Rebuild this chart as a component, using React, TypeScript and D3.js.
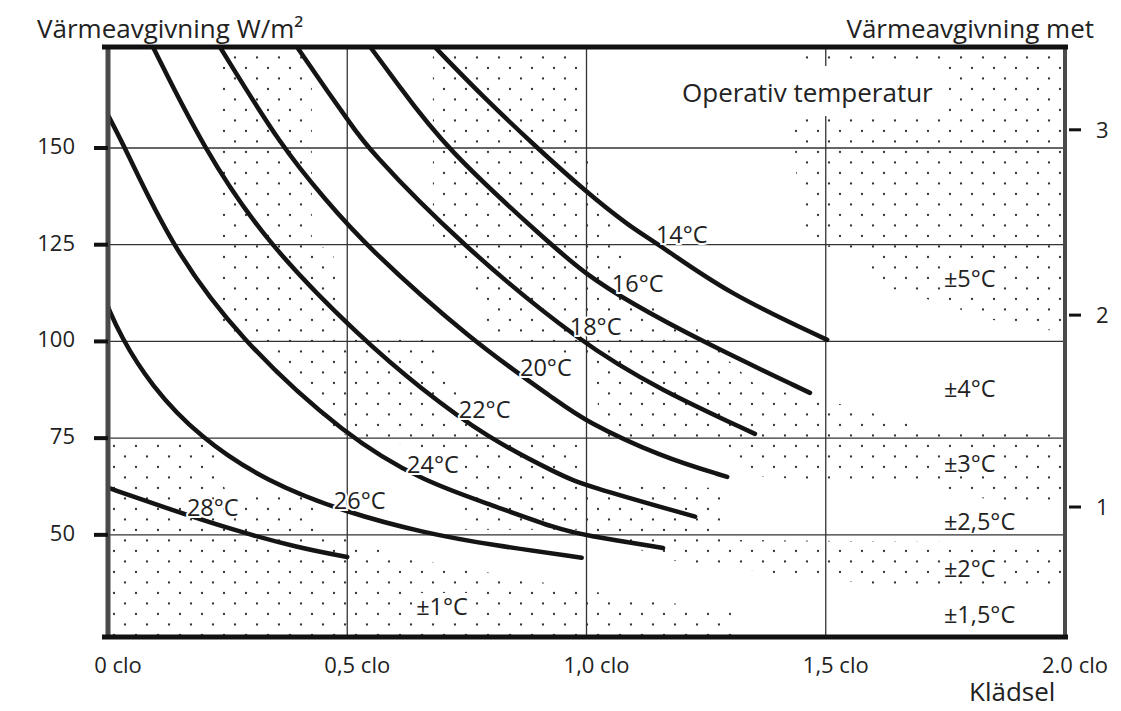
import { useEffect, useRef } from 'react';
import * as d3 from 'd3';

// x: klädsel (clo), y: värmeavgivning (W/m²)
const cloTicks = [0, 0.5, 1.0, 1.5, 2.0];
const cloTickLabels = ['0 clo', '0,5 clo', '1,0 clo', '1,5 clo', '2.0 clo'];
const wattTicks = [50, 75, 100, 125, 150];
const metTicks = [1, 2, 3];
// where the met ticks sit on the W/m² scale in the picture
const metInWatt = [57.2, 106.8, 154.7];

// operative temperature curves, [clo, W/m²]
const curveNames = ['14°C', '16°C', '18°C', '20°C', '22°C', '24°C', '26°C', '28°C'];
const curve14 = [[0.683, 176.1], [0.784, 163.2], [0.897, 150], [0.995, 139.1], [1.091, 129.6], [1.154, 124.9], [1.294, 112.5], [1.503, 100.4]];
const curve16 = [[0.548, 176.1], [0.604, 166.8], [0.704, 150], [0.924, 125.2], [0.995, 117.7], [1.091, 110], [1.243, 99.9], [1.467, 86.7]];
const curve18 = [[0.395, 176.1], [0.464, 163.7], [0.502, 157.2], [0.541, 150], [0.736, 125.2], [0.993, 99.1], [1.154, 87.5], [1.352, 76.1]];
const curve20 = [[0.234, 176.1], [0.364, 150], [0.455, 136.6], [0.535, 125.2], [0.757, 100.4], [0.945, 84.1], [0.993, 79.7], [1.154, 70.2], [1.294, 65.0]];
const curve22 = [[0.094, 176.1], [0.199, 150], [0.332, 125.2], [0.533, 100.4], [0.652, 88], [0.792, 75.1], [0.945, 65.5], [0.993, 62.9], [1.227, 54.7]];
const curve24 = [[0, 158.5], [0.036, 150], [0.13, 125.2], [0.272, 100.9], [0.5, 75.1], [0.662, 63.7], [0.8, 57.8], [0.945, 51.3], [0.993, 50], [1.16, 46.6]];
const curve26 = [[0, 108.9], [0.025, 101.7], [0.088, 88.8], [0.192, 75.1], [0.332, 63.7], [0.5, 55.7], [0.662, 50.5], [0.8, 47.4], [0.99, 44.1]];
const curve28 = [[0, 62.2], [0.12, 57], [0.26, 51.3], [0.4, 46.6], [0.5, 44.3]];
const curves = [curve14, curve16, curve18, curve20, curve22, curve24, curve26, curve28];
const curveLabelClo = [1.145, 1.053, 0.965, 0.861, 0.733, 0.625, 0.472, 0.165];

// stippled tolerance zones (±1, ±2, ±3, ±5 °C), [clo, W/m²]
const zone1 = [[0, 74.0], [0.213, 74.0], [0.245, 61.6], [0.422, 60.3], [0.453, 50.5], [0.5, 49.2], [0.652, 43.5], [0.876, 38.4], [0.993, 35.8], [1.112, 33.2], [1.31, 30.6], [1.31, 20], [0, 20]];
const zone2 = [[0.224, 180], [0.426, 180], [0.426, 125.2], [0.47, 123.6], [0.485, 101.2], [0.673, 100.4], [0.777, 77.6], [0.819, 74.5], [0.986, 73.3], [0.993, 62.9], [1.279, 62.1], [1.279, 48.7], [2.05, 47.9], [2.05, 37.1], [1.613, 37.1], [1.363, 40.4], [1.168, 43.5], [1.001, 51.3], [0.742, 51.3], [0.742, 64.2], [0.694, 72.0], [0.527, 74.5], [0.464, 77.1], [0.324, 99.1], [0.313, 101.2], [0.228, 101.2]];
const zone3 = [[0.679, 180], [0.986, 180], [0.997, 150], [1.028, 136.6], [1.07, 125.2], [1.112, 110.7], [1.237, 103.0], [1.3, 94.7], [1.348, 89.3], [1.419, 86.7], [1.536, 83.6], [1.724, 77.1], [2.05, 75.6], [2.05, 57.8], [1.921, 57.8], [1.781, 60.3], [1.703, 62.9], [1.509, 63.7], [1.321, 65.5], [1.279, 74.0], [1.028, 74.5], [1.018, 95.2], [0.903, 98.3], [0.798, 102.5], [0.729, 123.6], [0.679, 125.2]];
const zone5 = [[1.425, 180], [2.05, 180], [2.05, 101.2], [1.864, 105.0], [1.718, 110.7], [1.613, 114.6], [1.576, 123.6], [1.446, 125.2], [1.436, 149.5]];
const zones = [zone1, zone2, zone3, zone5];

const toleranceLabels = ['±5°C', '±4°C', '±3°C', '±2,5°C', '±2°C', '±1,5°C', '±1°C'];
const toleranceLabelAt = [[1.747, 114.1], [1.747, 85.7], [1.747, 66.3], [1.747, 51.3], [1.747, 39.1], [1.747, 27.3], [0.644, 29.3]];

export default function App() {
  const svgRef = useRef<SVGSVGElement | null>(null);

  useEffect(() => {
    const svg = svgRef.current;
    if (!svg) return;

    const width = 1121;
    const height = 711;
    const plot = { left: 108, right: 1065, top: 47, bottom: 637 };
    const font = '"Open Sans", sans-serif';
    const ink = '#222';

    const x = d3.scaleLinear().domain([0, 2]).range([plot.left, plot.right]);
    const y = d3.scaleLinear().domain([23.6, 176.1]).range([plot.bottom, plot.top]);
    const met = d3.scaleLinear().domain(metTicks).range(metInWatt);

    const root = d3.select(svg);
    root.selectAll('*').remove();
    root.attr('viewBox', `0 0 ${width} ${height}`);

    root.append('rect').attr('width', width).attr('height', height).attr('fill', '#fff');

    const defs = root.append('defs');
    const pat = defs
      .append('pattern')
      .attr('id', 'stipple')
      .attr('patternUnits', 'userSpaceOnUse')
      .attr('width', 22)
      .attr('height', 21);
    pat.append('circle').attr('cx', 4).attr('cy', 5).attr('r', 1.15).attr('fill', '#333');
    pat.append('circle').attr('cx', 15).attr('cy', 15.5).attr('r', 1.15).attr('fill', '#333');

    defs
      .append('clipPath')
      .attr('id', 'plotClip')
      .append('rect')
      .attr('x', plot.left)
      .attr('y', plot.top)
      .attr('width', plot.right - plot.left)
      .attr('height', plot.bottom - plot.top);

    const area = root.append('g').attr('clip-path', 'url(#plotClip)');

    const zoneLine = d3
      .line<number[]>()
      .x((d) => x(d[0]))
      .y((d) => y(d[1]))
      .curve(d3.curveLinearClosed);

    area
      .selectAll('path.zone')
      .data(zones)
      .join('path')
      .attr('class', 'zone')
      .attr('d', (d) => zoneLine(d))
      .attr('fill', 'url(#stipple)');

    // grid
    area
      .selectAll('line.hgrid')
      .data(wattTicks)
      .join('line')
      .attr('x1', plot.left)
      .attr('x2', plot.right)
      .attr('y1', (d) => y(d))
      .attr('y2', (d) => y(d))
      .attr('stroke', '#333')
      .attr('stroke-width', 1.3);

    area
      .selectAll('line.vgrid')
      .data(cloTicks.slice(1, -1))
      .join('line')
      .attr('x1', (d) => x(d))
      .attr('x2', (d) => x(d))
      .attr('y1', plot.top)
      .attr('y2', plot.bottom)
      .attr('stroke', '#333')
      .attr('stroke-width', 1.3);

    const label = (g: any, txt: string, px: number, py: number, size: number, anchor = 'start') =>
      g
        .append('text')
        .attr('x', px)
        .attr('y', py)
        .attr('text-anchor', anchor)
        .attr('font-family', font)
        .attr('font-size', size)
        .attr('fill', ink)
        .text(txt);

    // white boxes behind the zone labels
    const boxed = (txt: string, px: number, py: number) => {
      const g = root.append('g');
      const t = label(g, txt, px, py, 23.5);
      const b = (t.node() as SVGTextElement).getBBox();
      g.insert('rect', 'text')
        .attr('x', b.x - 4)
        .attr('y', b.y + 3)
        .attr('width', b.width + 8)
        .attr('height', b.height - 6)
        .attr('fill', '#fff');
    };

    toleranceLabels.forEach((t, i) => boxed(t, x(toleranceLabelAt[i][0]), y(toleranceLabelAt[i][1])));

    const op = root.append('g');
    const opText = label(op, 'Operativ temperatur', 682, 102, 26);
    const ob = (opText.node() as SVGTextElement).getBBox();
    op.insert('rect', 'text')
      .attr('x', ob.x - 12)
      .attr('y', ob.y - 8)
      .attr('width', Math.min(ob.width + 24, 1040 - ob.x + 12))
      .attr('height', ob.height + 14)
      .attr('fill', '#fff');

    // curve labels sit on their curve
    curves.forEach((c, i) => {
      const onCurve = d3.scaleLinear().domain(c.map((p) => p[0])).range(c.map((p) => p[1]));
      const cx = curveLabelClo[i];
      const t = label(root, curveNames[i], x(cx), y(onCurve(cx)) + 1, 23.5);
      t.attr('stroke', '#fff').attr('stroke-width', 4).attr('paint-order', 'stroke');
    });

    const curveLine = d3
      .line<number[]>()
      .x((d) => x(d[0]))
      .y((d) => y(d[1]))
      .curve(d3.curveBasis);

    area
      .selectAll('path.curve')
      .data(curves)
      .join('path')
      .attr('class', 'curve')
      .attr('d', (d) => curveLine(d))
      .attr('fill', 'none')
      .attr('stroke', '#141414')
      .attr('stroke-width', 4.5)
      .attr('stroke-linecap', 'round');

    // frame
    root.append('line').attr('x1', plot.left).attr('x2', plot.left).attr('y1', plot.top - 2).attr('y2', plot.bottom + 2)
      .attr('stroke', '#4a4a4a').attr('stroke-width', 5);
    root.append('line').attr('x1', plot.right).attr('x2', plot.right).attr('y1', plot.top - 2).attr('y2', plot.bottom + 2)
      .attr('stroke', '#4a4a4a').attr('stroke-width', 4);
    root.append('line').attr('x1', plot.left - 6).attr('x2', plot.right + 3).attr('y1', plot.top).attr('y2', plot.top)
      .attr('stroke', '#111').attr('stroke-width', 5);
    root.append('line').attr('x1', plot.left - 6).attr('x2', plot.right + 3).attr('y1', plot.bottom).attr('y2', plot.bottom)
      .attr('stroke', '#111').attr('stroke-width', 5);

    // left axis
    root
      .selectAll('line.ltick')
      .data(wattTicks)
      .join('line')
      .attr('x1', plot.left - 14)
      .attr('x2', plot.left)
      .attr('y1', (d) => y(d))
      .attr('y2', (d) => y(d))
      .attr('stroke', '#111')
      .attr('stroke-width', 4);
    wattTicks.forEach((v) => label(root, String(v), 75, y(v) + 6, 22, 'end'));

    // right axis (met)
    root
      .selectAll('line.rtick')
      .data(metTicks)
      .join('line')
      .attr('x1', plot.right + 4)
      .attr('x2', plot.right + 16)
      .attr('y1', (d) => y(met(d)))
      .attr('y2', (d) => y(met(d)))
      .attr('stroke', '#111')
      .attr('stroke-width', 3);
    metTicks.forEach((v) => label(root, String(v), 1096, y(met(v)) + 8, 22));

    // bottom axis
    cloTicks.forEach((v, i) => label(root, cloTickLabels[i], x(v) + 10, 673, 22, 'middle'));

    label(root, 'Värmeavgivning W/m²', 37, 38, 26);
    label(root, 'Värmeavgivning met', 1094, 38, 26, 'end');
    label(root, 'Klädsel', 969, 701, 26);
  }, []);

  return (
    <svg
      ref={svgRef}
      width={1121}
      height={711}
      style={{ position: 'absolute', left: 0, top: 0, display: 'block' }}
    />
  );
}
